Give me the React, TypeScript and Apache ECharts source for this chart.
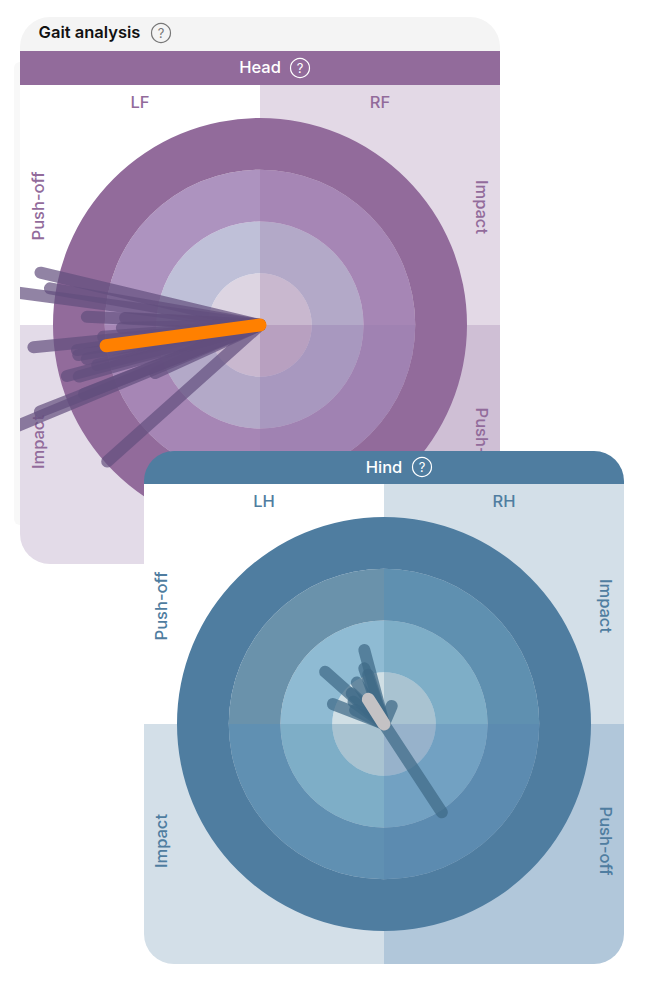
import React, { useEffect, useRef } from "react";
import * as echarts from "echarts";

const title = "Gait analysis";
const headTitle = "Head";
const hindTitle = "Hind";
const headQuadrants = ["LF", "RF"];
const hindQuadrants = ["LH", "RH"];
const sideLabels = ["Push-off", "Impact", "Impact", "Push-off"];

// [radius in zones, angle in degrees counter-clockwise from east]
const headSpokes: number[][] = [
  [4.36, 166.6], [4.12, 170.1], [5.0, 172.4], [3.35, 177.3], [2.61, 177.0], [2.67, 181.2],
  [3.04, 184.3], [4.4, 185.6], [3.57, 187.8], [3.56, 189.4], [3.41, 191.1], [3.24, 193.8],
  [3.86, 194.8], [3.64, 195.9], [2.23, 204.6], [4.57, 201.5], [5.2, 202.6], [3.96, 221.8], [3.65, 201.4],
];
const headCurrent = [3.0, 187.7];
const hindSpokes: number[][] = [
  [2.04, 303.2], [1.48, 104.9], [1.14, 109.5], [1.52, 138.4], [0.96, 123.2], [1.06, 158.7],
  [0.86, 136.5], [0.73, 144.0], [0.38, 66.8], [1.0, 107.8], [0.62, 154.2],
];
const hindCurrent = [0.565, 122.4];

const ringZones = [1, 2, 3, 4];
// colours clockwise from top right: TR, BR, BL, TL; innermost ring first
const headRingColors = [
  ["#c9b8cf", "#b8a0c0", "#c9b8cf", "#ddd5e2"],
  ["#b3a9c8", "#a898bf", "#b3a9c8", "#bfc0d8"],
  ["#a686b5", "#a082b2", "#a686b5", "#ad93bf"],
  ["#926b9b", "#926b9b", "#926b9b", "#926b9b"],
];
const hindRingColors = [
  ["#a9c3d1", "#97b2cb", "#a9c3d1", "#d0dfe5"],
  ["#7eaec7", "#72a1c2", "#7eaec7", "#8fbbd3"],
  ["#5f90b0", "#5c8bb0", "#6090b2", "#6a92ab"],
  ["#4f7da0", "#4f7da0", "#4f7da0", "#4f7da0"],
];

const FONT = "Inter";
const HEAD = { cx: 260, cy: 325, color: "#926b9b", spoke: "rgba(98,78,125,0.7)", zBase: 2 };
const HIND = { cx: 384, cy: 724, color: "#4f7da0", spoke: "rgba(62,105,135,0.72)", zBase: 12 };
const ZONE_PX = 51.75;
const MAX_ZONE = 6;

function rings(colors: string[][], cfg: typeof HEAD) {
  return ringZones
    .map((zone, i) => ({
      type: "pie",
      silent: true,
      z: cfg.zBase + 1,
      center: [cfg.cx, cfg.cy],
      radius: [(zone - 1) * ZONE_PX, zone * ZONE_PX],
      startAngle: 90,
      clockwise: true,
      label: { show: false },
      labelLine: { show: false },
      emphasis: { disabled: true },
      data: colors[i].map((c) => ({ value: 1, itemStyle: { color: c } })),
    }));
}

function spokes(list: number[][], polarIndex: number, color: string, width: number, z: number) {
  return list.map((s) => ({
    type: "line",
    coordinateSystem: "polar",
    polarIndex,
    silent: true,
    z,
    symbol: "none",
    lineStyle: { color, width, cap: "round" },
    data: [[0, s[1]], [s[0], s[1]]],
  }));
}

function label(text: string, x: number, y: number, color: string, z: number, rot = 0, size = 16.5, weight: any = 500) {
  return {
    type: "text", x, y, z, rotation: (rot * Math.PI) / 180,
    style: { text, fill: color, font: `${weight} ${size}px ${FONT}`, textAlign: "center", textVerticalAlign: "middle" },
  };
}

function help(x: number, y: number, color: string, z: number) {
  return [
    { type: "circle", z, shape: { cx: x, cy: y, r: 9.5 }, style: { fill: "none", stroke: color, lineWidth: 1.2 } },
    label("?", x, y, color, z, 0, 13, 400),
  ];
}

function rect(x: number, y: number, w: number, h: number, fill: string, z: number, r: any = 0) {
  return { type: "rect", z, shape: { x, y, width: w, height: h, r }, style: { fill } };
}

function axes(i: number, cfg: typeof HEAD) {
  return {
    polar: { center: [cfg.cx, cfg.cy], radius: ZONE_PX * MAX_ZONE },
    angle: { polarIndex: i, type: "value", min: 0, max: 360, startAngle: 0, clockwise: false, show: false },
    radius: { polarIndex: i, type: "value", min: 0, max: MAX_ZONE, show: false },
  };
}

export default function App() {
  const ref = useRef<HTMLDivElement>(null);
  useEffect(() => {
    const chart = echarts.init(ref.current!, undefined, { renderer: "svg" });
    const a = axes(0, HEAD);
    const b = axes(1, HIND);
    const hc = HEAD.color;
    const nc = HIND.color;
    chart.setOption({
      animation: false,
      polar: [a.polar, b.polar],
      angleAxis: [a.angle, b.angle],
      radiusAxis: [a.radius, b.radius],
      series: [
        ...rings(headRingColors, HEAD),
        ...spokes(headSpokes, 0, HEAD.spoke, 12, 4),
        ...spokes([headCurrent], 0, "#ff8000", 13, 5),
        ...rings(hindRingColors, HIND),
        ...spokes(hindSpokes, 1, HIND.spoke, 12, 14),
        ...spokes([hindCurrent], 1, "#c4c2c4", 13, 15),
      ],
      graphic: [
        // head card
        rect(20, 17, 480, 60, "#f4f4f4", 0, [30, 30, 0, 0]),
        rect(20, 51, 480, 34, hc, 1),
        rect(20, 85, 240, 240, "#ffffff", 1),
        rect(260, 85, 240, 240, "#e3d9e6", 1),
        rect(20, 325, 240, 239, "#e3dbe8", 1, [0, 0, 0, 30]),
        rect(260, 325, 240, 239, "#cfbfd5", 1),
        label(title, 89.5, 32, "#111111", 2, 0, 16.5, 600),
        ...help(161, 33, "#777777", 2),
        label(headTitle, 260, 67, "#ffffff", 2, 0, 16.5, 500),
        ...help(300, 68, "#ffffff", 2),
        label(headQuadrants[0], 140, 102, hc, 2),
        label(headQuadrants[1], 380, 102, hc, 2),
        label(sideLabels[0], 38, 206, hc, 2, 90),
        label(sideLabels[1], 482, 207, hc, 2, -90),
        label(sideLabels[2], 38, 442, hc, 2, 90),
        label(sideLabels[3], 482, 442, hc, 2, -90),
        // what lies outside the head card hides the spokes' far ends
        rect(0, 0, 20, 1000, "#ffffff", 6),
        rect(14, 62, 6, 463, "#f8f8f8", 7, [6, 0, 0, 6]),
        // hind card
        rect(144, 451, 480, 60, nc, 11, [30, 30, 0, 0]),
        rect(144, 484, 240, 240, "#ffffff", 12),
        rect(384, 484, 240, 240, "#d3dfe8", 12),
        rect(144, 724, 240, 240, "#d3dfe8", 12, [0, 0, 0, 30]),
        rect(384, 724, 240, 240, "#b1c7da", 12, [0, 0, 30, 0]),
        label(hindTitle, 384, 467, "#ffffff", 13, 0, 16.5, 500),
        ...help(422, 467, "#ffffff", 13),
        label(hindQuadrants[0], 264, 501, nc, 13),
        label(hindQuadrants[1], 504, 501, nc, 13),
        label(sideLabels[0], 161, 606, nc, 13, 90),
        label(sideLabels[1], 606, 606, nc, 13, -90),
        label(sideLabels[2], 161, 841, nc, 13, 90),
        label(sideLabels[3], 606, 841, nc, 13, -90),
      ],
    });
    return () => chart.dispose();
  }, []);
  return <div ref={ref} style={{ position: "absolute", left: 0, top: 0, width: 645, height: 1000 }} />;
}
